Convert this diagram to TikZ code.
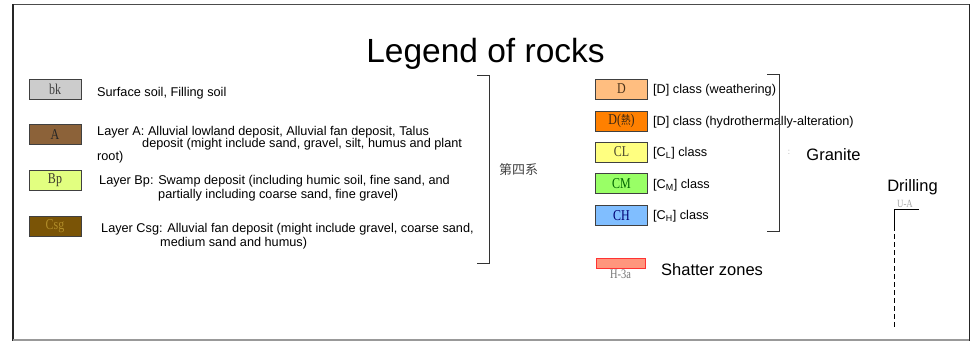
\documentclass[tikz,border=0pt]{standalone}
\usepackage{fontspec}
\setmainfont{Liberation Sans}
\newfontfamily\boxfont{Liberation Serif}
\newfontfamily\cjkfont{Noto Sans CJK SC}
\usepackage{tikz}
\usetikzlibrary{positioning}
\definecolor{soilgray}{RGB}{204,204,204}
\definecolor{layerA}{RGB}{140,98,57}
\definecolor{layerBp}{RGB}{226,255,128}
\definecolor{layerCsg}{RGB}{122,84,6}
\definecolor{txtCsg}{RGB}{176,140,40}
\definecolor{gradeD}{RGB}{255,190,128}
\definecolor{gradeDh}{RGB}{255,128,0}
\definecolor{gradeCL}{RGB}{255,255,128}
\definecolor{gradeCM}{RGB}{153,255,102}
\definecolor{gradeCH}{RGB}{128,190,255}
\definecolor{shatterfill}{RGB}{255,150,125}
\definecolor{shatterline}{RGB}{255,50,50}
\newcommand{\narrowlabel}[1]{\scalebox{0.8}[1]{#1}}

\begin{document}
\begin{tikzpicture}[x=1pt, y=-1pt,
  rock/.style={draw=black!75, line width=0.8pt, minimum width=52pt,
    minimum height=20pt, inner sep=0pt, font=\boxfont\fontsize{15}{15}\selectfont},
  desc/.style={anchor=base west, inner sep=0pt, font=\fontsize{12.7}{15}\selectfont},
  big/.style={anchor=base, inner sep=0pt, font=\fontsize{16.5}{18}\selectfont},
  brace/.style={draw=black!80, line width=0.9pt}]
  \useasboundingbox (0,0) rectangle (972,341);
  % frame
  \draw[black!70, line width=1pt] (13,4) -- (969,4);
  \draw[black!85, line width=1.6pt] (13,4) -- (13,341);
  \draw[black!85, line width=1pt] (969,4) -- (969,341);
  \draw[black!40, line width=1.2pt] (13,340) -- (969,340);

  \node[anchor=base, inner sep=0pt, font=\fontsize{33.5}{36}\selectfont] (title) at (485.5,62) {Legend of rocks};

  % quaternary layers
  \node[rock, fill=soilgray, text=black!75] (bk) at (55,89) {\narrowlabel{bk}};
  \node[rock, fill=layerA, text=black!85] (layA) at (55,134.5) {\narrowlabel{A}};
  \node[rock, fill=layerBp, text=black!75!olive] (layBp) at (55,180.5) {\narrowlabel{Bp}};
  \node[rock, fill=layerCsg, text=txtCsg] (layCsg) at (55,226) {\narrowlabel{Csg}};

  \node[desc] (bktxt) at (97,96) {Surface soil, Filling soil};
  \node[desc] (Atxt1) at (97,135) {Layer A: Alluvial lowland deposit, Alluvial fan deposit, Talus};
  \node[desc] (Atxt2) at (142,147.7) {deposit (might include sand, gravel, silt, humus and plant};
  \node[desc] (Atxt3) at (97,160.4) {root)};
  \node[desc] (Bptxt1) at (99,184) {Layer Bp: Swamp deposit (including humic soil, fine sand, and};
  \node[desc] (Bptxt2) at (158,198) {partially including coarse sand, fine gravel)};
  \node[desc] (Csgtxt1) at (101,232) {Layer Csg: Alluvial fan deposit (might include gravel, coarse sand,};
  \node[desc] (Csgtxt2) at (160,246.7) {medium sand and humus)};

  \draw[brace] (477,75) -- (489,75) -- (489,263) -- (477,263);
  \node[anchor=base west, inner sep=0pt, text=black!75, font=\cjkfont\fontsize{13}{13}\selectfont] (quat) at (499,174) {第四系};

  % granite classes
  \node[rock, fill=gradeD, text=black!60!brown] (clD) at (621.5,89) {\narrowlabel{D}};
  \node[rock, fill=gradeDh, text=black!70!brown] (clDh) at (621.5,121) {\narrowlabel{D(\cjkfont\fontsize{12}{12}\selectfont 熱\boxfont\fontsize{15}{15}\selectfont)}};
  \node[rock, fill=gradeCL, text=black!65!olive] (clCL) at (621.5,152) {\narrowlabel{CL}};
  \node[rock, fill=gradeCM, text=black!60!green] (clCM) at (621.5,183.5) {\narrowlabel{CM}};
  \node[rock, fill=gradeCH, text=black!55!blue] (clCH) at (621.5,215.5) {\narrowlabel{CH}};

  \node[desc] (Dtxt) at (653,93.3) {[D] class (weathering)};
  \node[desc] (Dhtxt) at (653,125) {[D] class (hydrothermally-alteration)};
  \node[desc] (CLtxt) at (653,156.3) {[C\textsubscript{L}] class};
  \node[desc] (CMtxt) at (653,188.3) {[C\textsubscript{M}] class};
  \node[desc] (CHtxt) at (653,219.3) {[C\textsubscript{H}] class};

  \draw[brace] (767,74) -- (779,74) -- (779,231) -- (767,231);
  \node[inner sep=0pt, text=black!35, font=\fontsize{8}{8}\selectfont] (dot) at (789,152) {:};
  \node[big] (granite) at (833.5,160.5) {Granite};

  % shatter zones
  \node[draw=shatterline, fill=shatterfill, line width=1pt, minimum width=49pt,
    minimum height=10pt, inner sep=0pt] (shatter) at (620.5,263.5) {};
  \node[below=1pt of shatter, inner sep=0pt, text=black!55,
    font=\boxfont\fontsize{13}{13}\selectfont] (H3a) {\narrowlabel{H-3a}};
  \node[anchor=base west, inner sep=0pt, font=\fontsize{16.5}{18}\selectfont] (shattertxt) at (661,275.5) {Shatter zones};

  % drilling
  \node[big] (drill) at (912.5,191) {Drilling};
  \coordinate (dtop) at (894,209);
  \coordinate (dend) at (919,209);
  \coordinate (dmid) at (894,226);
  \coordinate (dbot) at (894,328);
  \node[anchor=south, inner sep=0pt, text=black!35,
    font=\boxfont\fontsize{11}{11}\selectfont] (holeid) at (905,208) {\narrowlabel{U-A}};
  \draw[line width=0.9pt] (dend) -- (dtop) -- (dmid);
  \draw[line width=0.9pt, dash pattern=on 5pt off 3pt] (dmid) -- (dbot);
\end{tikzpicture}
\end{document}
